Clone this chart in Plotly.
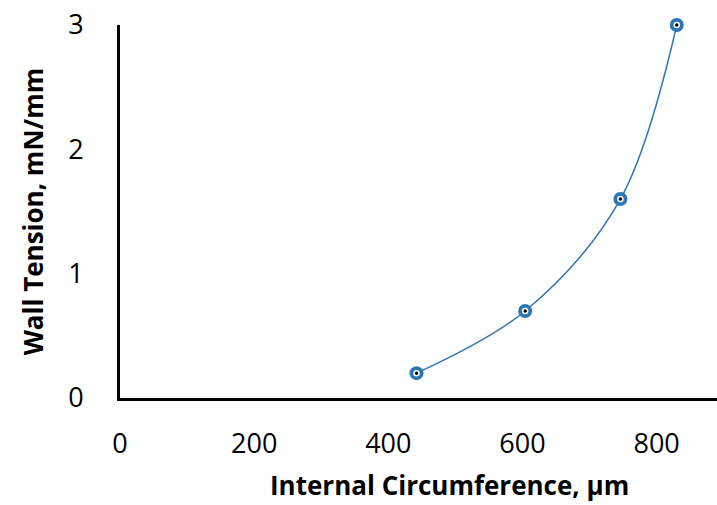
import plotly.graph_objects as go

circumference = [442, 604, 746, 830]
tension = [0.2, 0.7, 1.6, 3.0]
x_ticks = [0, 200, 400, 600, 800]
y_ticks = [0, 1, 2, 3]

blue = "#2E75B6"
fig = go.Figure()
fig.add_trace(go.Scatter(
    x=circumference, y=tension, mode="lines+markers",
    line=dict(color=blue, width=1.5, shape="spline", smoothing=1.0),
    marker=dict(size=14, color=blue, line=dict(width=0)),
    showlegend=False, cliponaxis=False))
fig.add_trace(go.Scatter(
    x=circumference, y=tension, mode="markers",
    marker=dict(size=5, color="black", line=dict(width=1.5, color="white")),
    showlegend=False, cliponaxis=False))

font = "'Open Sans', sans-serif"
fig.update_layout(
    width=717, height=505,
    margin=dict(l=120, r=0, t=25, b=107),
    paper_bgcolor="white", plot_bgcolor="white",
    font=dict(family=font, size=27, color="black"),
    xaxis=dict(range=[0, 890], tickvals=x_ticks, showgrid=False, zeroline=False,
               showline=True, linecolor="black", linewidth=3,
               ticks="", ticklabelstandoff=20),
    yaxis=dict(range=[0, 3], tickvals=y_ticks, showgrid=False, zeroline=False,
               showline=True, linecolor="black", linewidth=3,
               ticks="", ticklabelstandoff=28,
               title=dict(text="<b>Wall Tension, mN/mm</b>", font=dict(size=26), standoff=18)),
    annotations=[dict(text="<b>Internal Circumference, µm</b>", font=dict(size=26),
                      xref="paper", yref="paper", x=(450 - 120) / 597, y=-(485 - 398) / 373,
                      xanchor="center", yanchor="middle", showarrow=False)],
)
fig.write_html("out.html")
